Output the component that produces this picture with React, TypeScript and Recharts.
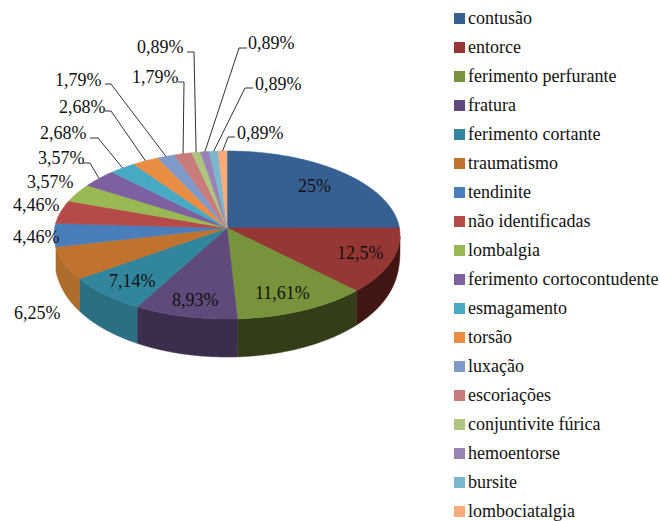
import { Legend, Pie, PieChart } from "recharts";

const categories = [
  "contusão",
  "entorce",
  "ferimento perfurante",
  "fratura",
  "ferimento cortante",
  "traumatismo",
  "tendinite",
  "não identificadas",
  "lombalgia",
  "ferimento cortocontudente",
  "esmagamento",
  "torsão",
  "luxação",
  "escoriações",
  "conjuntivite fúrica",
  "hemoentorse",
  "bursite",
  "lombociatalgia",
];

const shares = [25, 12.5, 11.61, 8.93, 7.14, 6.25, 4.46, 4.46, 3.57, 3.57, 2.68, 2.68, 1.79, 1.79, 0.89, 0.89, 0.89, 0.89];

const topColors = [
  "#376092", "#953735", "#77933c", "#604a7b", "#31859c", "#c0722f",
  "#4a7ebb", "#b54a48", "#98b954", "#7d60a0", "#46aac5", "#e98d42",
  "#7f9ac9", "#c97b7b", "#afc57f", "#9983b5", "#7bb8cf", "#f9ab7b",
];

const wallColors = [
  "#254061", "#401512", "#333d18", "#3c2d4d", "#2b6f84", "#b06c2c",
  "#2f5a8c", "#7a2f2d", "#66803a", "#53406e", "#2f7d93", "#b0682e",
  "#5a76a6", "#a05a5a", "#86a05c", "#75608f", "#5a93a8", "#c98658",
];

// where the picture has each percent label: left edge, middle line, and the elbow of the leader if it has one
const labelSpots = [
  { x: 298, y: 186 },
  { x: 337, y: 253 },
  { x: 255, y: 293 },
  { x: 172, y: 300 },
  { x: 109, y: 281 },
  { x: 14, y: 313 },
  { x: 13, y: 237 },
  { x: 13, y: 205 },
  { x: 27, y: 182 },
  { x: 38, y: 158, tail: [[83, 163], [90, 163]] },
  { x: 40, y: 133, tail: [[90, 138], [98, 138]] },
  { x: 59, y: 107, tail: [[105, 111], [111, 111]] },
  { x: 55, y: 80, tail: [[105, 84], [111, 84]] },
  { x: 132, y: 77, tail: [[178, 82], [184, 82]] },
  { x: 137, y: 47, tail: [[187, 52], [194, 52]] },
  { x: 248, y: 43, tail: [[247, 48], [239, 48]] },
  { x: 255, y: 84, tail: [[253, 88], [245, 88]] },
  { x: 237, y: 133, tail: [[235, 137], [228, 137]] },
];

const sliceTable = categories.map((name, i) => ({
  name,
  value: shares[i],
  fill: topColors[i],
  wall: wallColors[i],
}));

const serif = "'Liberation Serif', 'Times New Roman', serif";
const CX = 227;
const CY = 228;
const RX = 173;
const SQUASH = 84 / 173;
const APEX_DROP = 7; // the rim's ellipse sits a little below the point where the slices meet
const ANGLE_SKEW = 4.8;
const DEPTH = 38;
const WALL_LAST = 171.7;

const toRad = (deg: number) => (deg * Math.PI) / 180;

// the tilted disc is seen in perspective, so slice angles shift a little on the rim
function rimAngle(angle: number) {
  return angle + ANGLE_SKEW * Math.cos(toRad(angle));
}

function rimPoint(cx: number, cy: number, r: number, angle: number) {
  const phi = toRad(rimAngle(angle));
  return { x: cx + r * Math.cos(phi), y: cy + APEX_DROP - r * SQUASH * Math.sin(phi) };
}

function arcAngles(from: number, to: number) {
  const steps = Math.max(2, Math.ceil(Math.abs(to - from) / 0.5));
  return Array.from({ length: steps + 1 }, (_, i) => from + ((to - from) * i) / steps);
}

function TopSlice(props: any) {
  const { cx, cy, outerRadius, startAngle, endAngle, fill } = props;
  const pts = arcAngles(startAngle, endAngle).map((a) => rimPoint(cx, cy, outerRadius, a));
  const d = `M${cx},${cy} ` + pts.map((p) => `L${p.x.toFixed(2)},${p.y.toFixed(2)}`).join(" ") + " Z";
  return <path d={d} fill={fill} stroke={fill} strokeWidth={0.6} />;
}

function WallSlice(props: any) {
  const { cx, cy, outerRadius, startAngle, endAngle, payload } = props;
  // only the part of the side facing the viewer shows
  const angles = arcAngles(startAngle, endAngle).filter((a) => {
    const t = -rimAngle(a);
    return t >= 0.5 && t <= WALL_LAST;
  });
  if (angles.length < 2) return <g />;
  const upper = angles.map((a) => rimPoint(cx, cy, outerRadius, a));
  const lower = angles
    .map((a) => {
      const p = rimPoint(cx, cy, outerRadius, a);
      return { x: p.x, y: p.y + DEPTH * Math.pow(Math.sin(toRad(-rimAngle(a))), 0.25) };
    })
    .reverse();
  const d = [...upper, ...lower].map((p, i) => `${i ? "L" : "M"}${p.x.toFixed(2)},${p.y.toFixed(2)}`).join(" ") + " Z";
  return <path d={d} fill={payload.wall} stroke={payload.wall} strokeWidth={0.5} />;
}

function SliceLabel(props: any) {
  const { index, midAngle, cx, cy, outerRadius, value } = props;
  const spot: any = labelSpots[index];
  const rim = rimPoint(cx, cy, outerRadius, midAngle);
  const text = `${String(value).replace(".", ",")}%`;
  return (
    <g>
      {spot.tail && (
        <polyline
          points={[...spot.tail, [rim.x, rim.y]].map((p: number[]) => p.join(",")).join(" ")}
          fill="none"
          stroke="#333333"
          strokeWidth={1}
        />
      )}
      <text x={spot.x} y={spot.y} dy="0.34em" fontFamily={serif} fontSize={18} fill="#111111">
        {text}
      </text>
    </g>
  );
}

function LegendList({ payload }: any) {
  // both pies report their slices, keep one row per category
  const rows = (payload ?? []).filter(
    (entry: any, i: number, all: any[]) => all.findIndex((e) => e.value === entry.value) === i
  );
  return (
    <div style={{ fontFamily: serif, fontSize: 18, color: "#111111" }}>
      {rows.map((entry: any) => (
        <div key={entry.value} style={{ display: "flex", alignItems: "center", height: 29, whiteSpace: "nowrap" }}>
          <span style={{ width: 11, height: 11, background: entry.color, marginRight: 3, flex: "none" }} />
          {entry.value}
        </div>
      ))}
    </div>
  );
}

export default function App() {
  return (
    <div style={{ position: "absolute", left: 0, top: 0, width: 660, height: 521, background: "#ffffff" }}>
      <PieChart width={660} height={521} margin={{ top: 0, right: 0, bottom: 0, left: 0 }}>
        <Pie
          data={sliceTable}
          dataKey="value"
          nameKey="name"
          cx={CX}
          cy={CY}
          outerRadius={RX}
          startAngle={90}
          endAngle={-270}
          paddingAngle={0}
          shape={WallSlice}
          legendType="none"
          label={false}
          isAnimationActive={false}
        />
        <Pie
          data={sliceTable}
          dataKey="value"
          nameKey="name"
          cx={CX}
          cy={CY}
          outerRadius={RX}
          startAngle={90}
          endAngle={-270}
          paddingAngle={0}
          shape={TopSlice}
          label={SliceLabel}
          labelLine={false}
          isAnimationActive={false}
        />
        <Legend
          layout="vertical"
          align="right"
          verticalAlign="top"
          itemSorter={null}
          content={LegendList}
          wrapperStyle={{ left: 454, top: 4, width: 206, right: "auto" }}
        />
      </PieChart>
    </div>
  );
}
